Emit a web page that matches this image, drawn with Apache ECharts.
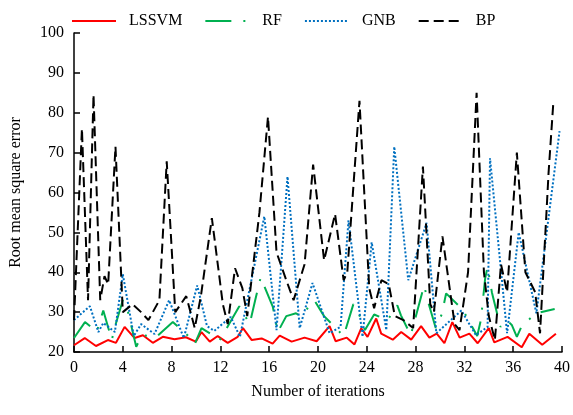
<!DOCTYPE html>
<html><head><meta charset="utf-8">
<script src="https://cdn.jsdelivr.net/npm/echarts@6/dist/echarts.min.js"></script>
<style>html,body{margin:0;padding:0;background:#fff}#c{width:573px;height:415px}</style>
</head><body><div id="c"></div>
<script>
const seriesNames = ['LSSVM', 'RF', 'GNB', 'BP'];
const xTicks = [0, 4, 8, 12, 16, 20, 24, 28, 32, 36, 40];
const yTicks = [20, 30, 40, 50, 60, 70, 80, 90, 100];

const lssvmX = [0,0.88,1.8,2.78,3.44,4.15,4.97,5.65,6.46,7.28,8.24,9.17,9.98,10.45,11.13,11.78,12.6,13.42,13.85,14.57,15.38,16.28,16.86,17.84,18.9,19.89,20.95,21.44,22.36,22.99,23.54,24.06,24.77,25.18,26.13,26.82,27.64,28.45,29.13,29.73,30.36,31.01,31.61,32.41,33.09,34.0,34.45,35.54,36.7,37.32,38.38,39.5];
const lssvmY = [21.7,23.5,21.5,23,22.3,26.3,23.5,24.2,22.3,23.8,23.2,23.7,22.6,25,22.6,24,22.3,23.8,26,23,23.4,22.1,24.1,22.6,23.6,22.7,26.5,22.7,23.6,21.9,25.9,23.8,28.4,24.6,23.1,25,23.1,26.5,23.6,24.6,22.2,27.5,23.6,24.6,22.2,26,22.4,23.8,21.2,24.6,21.8,24.6];

const rfX = [0,0.9,1.3,1.85,2.4,3.1,3.35,4.0,4.4,5.1,5.55,6.75,8.1,9.3,9.9,10.45,11.4,11.95,12.9,13.55,14.4,14.85,15.3,16.3,16.7,17.4,18.2,18.6,19.7,20.5,22.1,22.9,23.3,23.85,24.6,25.7,26.5,26.8,27.6,28.7,28.95,29.65,30.15,30.5,31.85,33.05,33.35,33.7,33.9,34.25,34.95,35.5,35.9,36.3,36.7,37.85,39.4];
const rfY = [23.5,27.5,26.5,25,30.4,23,26.3,33,30.4,21.3,24.2,23.8,27.5,24.2,22,26,24.2,23,28,31.5,27,33,38.7,31.3,25,29,29.7,29,33,29,24,32,30,25.5,29.4,28,31.7,29.2,24.2,36.7,33.4,26,29.5,34.7,30.7,24,28,38.4,41.4,35,26.3,28,26.7,23.8,26.5,29.7,30.8];

const gnbX = [0,1.3,2.0,2.4,3.35,4.0,4.9,5.5,6.6,7.8,9.0,10.1,10.9,11.5,12.85,13.6,15.6,16.6,17.5,18.5,19.55,20.95,21.85,22.5,23.65,24.4,25.6,26.25,27.4,28.9,29.7,31.75,32.95,33.9,34.1,35.5,36.45,37.9,39.8];
const gnbY = [28,31.5,25,27.3,25,39.5,24,27,24.5,33,23.5,36.7,26.5,25.3,28.8,23.8,54,25.5,64,26,37.3,24.7,26.3,53,23.8,47.5,25.5,71.5,38,52.4,24.7,30.4,24.2,26.3,68.6,24.7,50,29.7,75.4];

const bpX = [0,0.65,1.15,1.6,2.15,2.5,2.8,3.4,4.0,4.8,5.5,6.1,7.0,7.6,8.3,9.2,9.9,10.4,11.3,12.2,12.6,13.2,13.8,14.2,15.2,15.9,16.6,17.4,18.0,18.9,19.6,20.5,21.4,22.1,22.4,23.4,24.2,24.6,25.2,25.8,26.3,27.0,27.8,28.6,29.2,29.5,30.2,30.7,31.2,31.6,32.3,33.0,33.6,34.0,34.5,35.0,35.5,36.3,37.0,37.8,38.2,38.9,39.3];
const bpY = [28,76,33,84.5,33,39,37,71.5,30,32,30,28,33,67.8,30,34,26,34,53.6,32,27,41,36,29,55,79,45,38,33,42,67,43,54.6,38,40,83,36,31,38,37,29,28,26,66.5,32,30,49,38,27,25.5,40,85,40,29,23,42,35,70,40,35,24.7,65,83];

const colors = ['#ff0000', '#00b050', '#0070c0', '#000000'];
const dashes = ['solid', [26, 12, 2, 12], [2, 2], [10, 5]];
const xs = [lssvmX, rfX, gnbX, bpX];
const ys = [lssvmY, rfY, gnbY, bpY];

const font = 'Liberation Serif';
const chart = echarts.init(document.getElementById('c'), null, {renderer: 'canvas'});
chart.setOption({
  animation: false,
  backgroundColor: '#fff',
  legend: {
    left: 66, top: 8, itemWidth: 44, itemHeight: 14, itemGap: 22,
    itemStyle: {color: 'rgba(0,0,0,0)', borderColor: 'rgba(0,0,0,0)', borderWidth: 0, opacity: 0},
    textStyle: {fontFamily: font, fontSize: 16, color: '#000', padding: [0, 0, 0, 8]},
    data: seriesNames
  },
  grid: {left: 74, right: 10, top: 33, bottom: 63},
  xAxis: {
    type: 'value', min: xTicks[0], max: xTicks[xTicks.length - 1], interval: 4,
    name: 'Number of iterations', nameLocation: 'middle', nameGap: 32,
    nameTextStyle: {fontFamily: font, fontSize: 16, color: '#000'},
    axisLine: {lineStyle: {color: '#000', width: 1.5}},
    axisTick: {inside: true, length: 6, lineStyle: {color: '#000', width: 1.5}},
    axisLabel: {fontFamily: font, fontSize: 16, color: '#000', margin: 8},
    splitLine: {show: false}
  },
  yAxis: {
    type: 'value', min: yTicks[0], max: yTicks[yTicks.length - 1], interval: 10,
    name: 'Root mean square error', nameLocation: 'middle', nameGap: 50,
    nameTextStyle: {fontFamily: font, fontSize: 16, color: '#000'},
    axisLine: {show: true, lineStyle: {color: '#000', width: 1.5}},
    axisTick: {show: true, inside: true, length: 6, lineStyle: {color: '#000', width: 1.5}},
    axisLabel: {fontFamily: font, fontSize: 16, color: '#000', margin: 10},
    splitLine: {show: false}
  },
  series: seriesNames.map((n, i) => ({
    name: n, type: 'line', showSymbol: false, symbol: 'none',
    data: xs[i].map((x, j) => [x, ys[i][j]]),
    lineStyle: {color: colors[i], width: 2, type: dashes[i]},
    itemStyle: {color: colors[i]}
  }))
});
</script></body></html>
